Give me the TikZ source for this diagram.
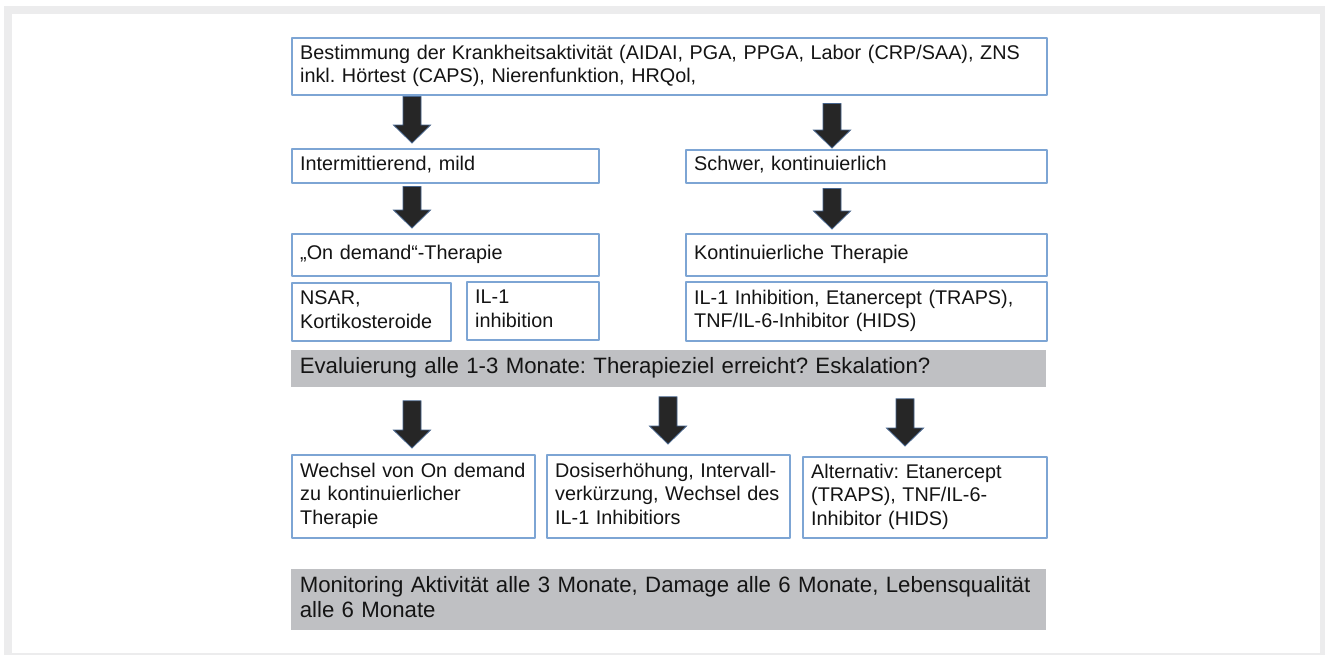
\documentclass[tikz,border=0pt]{standalone}
\usepackage{fontspec}
\setmainfont{Liberation Sans}
\usetikzlibrary{calc}
\definecolor{boxblue}{RGB}{125,165,212}
\definecolor{bargray}{RGB}{191,192,195}
\definecolor{framegray}{RGB}{236,236,237}
\definecolor{arrowdark}{RGB}{38,38,38}
\definecolor{arrowedge}{RGB}{70,100,140}
\frenchspacing
\newcommand\boxstart{\leftskip1.2pt\relax\strut}
\tikzset{
	box/.style={draw=boxblue, line width=0.75pt, fill=white, anchor=north west, align=left,
		inner xsep=3pt, inner ysep=0pt, font=\fontsize{9.9}{11.7}\selectfont,
		execute at begin node=\boxstart, execute at end node=\strut},
	bar/.style={fill=bargray, anchor=north west, align=left, inner xsep=3pt, inner ysep=0pt,
		font=\fontsize{11.1}{12.5}\selectfont,
		execute at begin node=\boxstart, execute at end node=\strut}
}
\begin{document}
\begin{tikzpicture}[x=0.5pt, y=-0.5pt, line join=round, text=black!92]
		\fill[white] (0,0) rectangle (1325,655);
		\useasboundingbox (0,0) rectangle (1325,655);
		\fill[framegray] (4,6) rectangle (1325,655);
		\fill[white] (12,14) rectangle (1320,653);
		\node[box, text width=371.5pt, minimum height=28.5pt] (top) at (291,37)
			{Bestimmung der Krankheitsaktivität (AIDAI, PGA, PPGA, Labor (CRP/SAA), ZNS\\inkl. Hörtest (CAPS), Nierenfunktion, HRQol,};
		\node[box, text width=147.5pt, minimum height=17pt] (mild) at (291,148) {Intermittierend, mild};
		\node[box, text width=174.5pt, minimum height=16.5pt] (schwer) at (685,149) {Schwer, kontinuierlich};
		\node[box, text width=147.5pt, minimum height=21pt] (ondem) at (291,233) {„On demand“-Therapie};
		\node[box, text width=174.5pt, minimum height=21pt] (kont) at (685,233) {Kontinuierliche Therapie};
		\node[box, text width=73.5pt, minimum height=29pt] (nsar) at (291,282) {NSAR,\\Kortikosteroide};
		\node[box, text width=60pt, minimum height=29pt] (ilone) at (466,281) {IL-1\\inhibition};
		\node[box, text width=174.5pt, minimum height=29.5pt] (ilinh) at (685,281)
			{IL-1 Inhibition, Etanercept (TRAPS),\\TNF/IL-6-Inhibitor (HIDS)};
		\node[bar, text width=371.5pt, minimum height=18.5pt] (eval) at (291,350)
			{Evaluierung alle 1-3 Monate: Therapieziel erreicht? Eskalation?};
		\node[box, text width=115.5pt, minimum height=41.5pt] (wechsel) at (291,454)
			{Wechsel von On demand\\zu kontinuierlicher\\Therapie};
		\node[box, text width=115.5pt, minimum height=41.5pt] (dosis) at (546,454)
			{Dosiserhöhung, Intervall-\\verkürzung, Wechsel des\\IL-1 Inhibitiors};
		\node[box, text width=116pt, minimum height=40.5pt] (alt) at (802,456)
			{Alternativ: Etanercept\\(TRAPS), TNF/IL-6-\\Inhibitor (HIDS)};
		\node[bar, text width=371.5pt, minimum height=30.5pt] (monit) at (291,569)
			{Monitoring Aktivität alle 3 Monate, Damage alle 6 Monate, Lebensqualität\\alle 6 Monate};
		\foreach \x/\from/\to/\a/\b in {412/top/mild/1/5, 832/top/schwer/8/1, 412/mild/ondem/3/5, 832/schwer/kont/5/4,
			412/eval/wechsel/13/6, 668/eval/dosis/9/10, 905/eval/alt/11/10}{
			\coordinate (ax) at (\x,0);
			\path ($(ax |- \from.south)+(0,\a)$) coordinate (s)
				($(ax |- \to.north)+(0,-\b)$) coordinate (e);
			\filldraw[fill=arrowdark, draw=arrowedge, line width=0.4pt, line join=miter]
				($(s)+(-9,0)$) -- ($(e)+(-9,-18)$) -- ($(e)+(-18.5,-18)$) -- (e)
				-- ($(e)+(18.5,-18)$) -- ($(e)+(9,-18)$) -- ($(s)+(9,0)$) -- cycle;
		}
	\end{tikzpicture}
\end{document}
